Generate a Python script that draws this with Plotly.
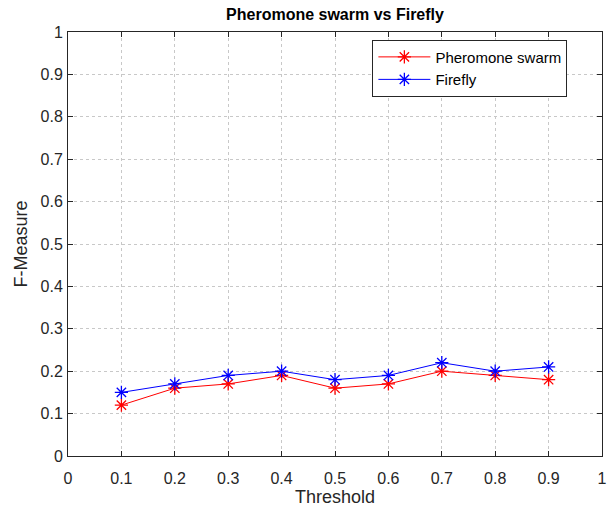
import plotly.graph_objects as go

threshold = [0.1, 0.2, 0.3, 0.4, 0.5, 0.6, 0.7, 0.8, 0.9]
pheromone = [0.12, 0.16, 0.17, 0.19, 0.16, 0.17, 0.20, 0.19, 0.18]
firefly = [0.15, 0.17, 0.19, 0.20, 0.18, 0.19, 0.22, 0.20, 0.21]
ticks = [0, 0.1, 0.2, 0.3, 0.4, 0.5, 0.6, 0.7, 0.8, 0.9, 1]
tick_text = ["0", "0.1", "0.2", "0.3", "0.4", "0.5", "0.6", "0.7", "0.8", "0.9", "1"]

fig = go.Figure()
fig.add_trace(go.Scatter(x=threshold, y=pheromone, mode="lines+markers", name="Pheromone swarm",
                         line=dict(color="red", width=1),
                         marker=dict(symbol="asterisk-open", size=11, color="red", line=dict(color="red", width=1.3))))
fig.add_trace(go.Scatter(x=threshold, y=firefly, mode="lines+markers", name="Firefly",
                         line=dict(color="blue", width=1),
                         marker=dict(symbol="asterisk-open", size=11, color="blue", line=dict(color="blue", width=1.3))))

axis_common = dict(range=[0, 1], tickvals=ticks, ticktext=tick_text, showgrid=True,
                   gridcolor="#c8c8c8", griddash="dot", gridwidth=1,
                   showline=True, linecolor="#262626", linewidth=1, mirror="ticks",
                   ticks="inside", ticklen=5, tickcolor="#262626", zeroline=False,
                   automargin=False,
                   tickfont=dict(family="Liberation Sans, Arial", size=16, color="#262626"))

fig.update_layout(
    width=614, height=508,
    margin=dict(l=68, r=12, t=32, b=52),
    paper_bgcolor="white", plot_bgcolor="white",
    title=dict(text="<b>Pheromone swarm vs Firefly</b>", x=0.5, xanchor="center", xref="paper",
               y=1, yref="container", yanchor="top", pad=dict(t=9),
               font=dict(family="Liberation Sans, Arial", size=16, color="black")),
    xaxis=dict(**axis_common, ticklabelstandoff=8,
               title=dict(text="Threshold", standoff=2,
                          font=dict(family="Liberation Sans, Arial", size=18, color="#262626"))),
    yaxis=dict(**axis_common, ticklabelstandoff=1,
               title=dict(text="F-Measure", standoff=8,
                          font=dict(family="Liberation Sans, Arial", size=18, color="#262626"))),
    legend=dict(x=0.57, y=0.982, xanchor="left", yanchor="top", bgcolor="white",
                bordercolor="#262626", borderwidth=1,
                font=dict(family="Liberation Sans, Arial", size=15, color="black"),
                tracegroupgap=0, itemwidth=52),
    showlegend=True,
)

fig.write_html("out.html")
